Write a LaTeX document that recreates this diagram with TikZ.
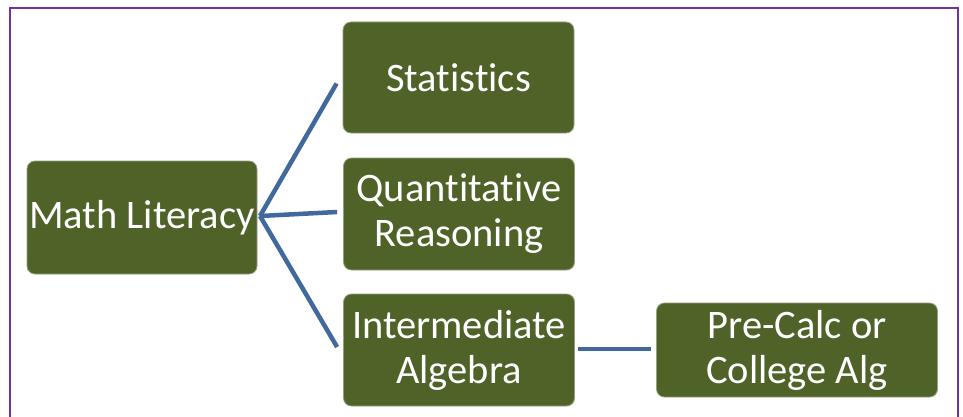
\documentclass[tikz,border=0pt]{standalone}
\usepackage{fontspec}
\setmainfont{Carlito}[Ligatures={NoCommon}]
\definecolor{boxgreen}{HTML}{4F6228}
\definecolor{linkblue}{HTML}{41699C}
\definecolor{framepurple}{HTML}{7030A0}
\tikzset{
  gbox/.style={draw=boxgreen!60!white, line width=0.8pt, fill=boxgreen, rounded corners=8pt,
    text=white, align=center, inner sep=0pt, font=\fontsize{40.5}{45}\selectfont},
  link/.style={draw=linkblue, line width=4.5pt}
}
\begin{document}
\begin{tikzpicture}[x=1pt,y=-1pt]
\useasboundingbox (0,0) rectangle (963,417);
\fill[white] (0,0) rectangle (963,417);
\draw[framepurple, line width=2.2pt] (10,417) -- (10,8) -- (958,8) -- (958,417);
\node[gbox, minimum width=230pt, minimum height=113pt] (ml) at (142,217.5) {Math Literacy};
\node[gbox, minimum width=231pt, minimum height=111pt] (st) at (458.5,77.5) {Statistics};
\node[gbox, minimum width=231pt, minimum height=112pt] (qr) at (459,214) {Quantitative\\Reasoning};
\node[gbox, minimum width=231pt, minimum height=112pt] (ia) at (459,350) {Intermediate\\Algebra};
\node[gbox, minimum width=281pt, minimum height=94pt] (pc) at (797,350) {Pre-Calc or\\College Alg};
\coordinate (hub) at (260,216);
\draw[link] (hub) -- ([xshift=-6pt,yshift=-6pt]st.west);
\draw[link] (hub) -- ([xshift=-6pt,yshift=2pt]qr.west);
\draw[link] (hub) -- ([xshift=-6pt,yshift=3pt]ia.west);
\draw[link] ([xshift=3pt,yshift=1pt]ia.east) -- ([xshift=-5pt,yshift=1pt]pc.west);
\end{tikzpicture}
\end{document}
